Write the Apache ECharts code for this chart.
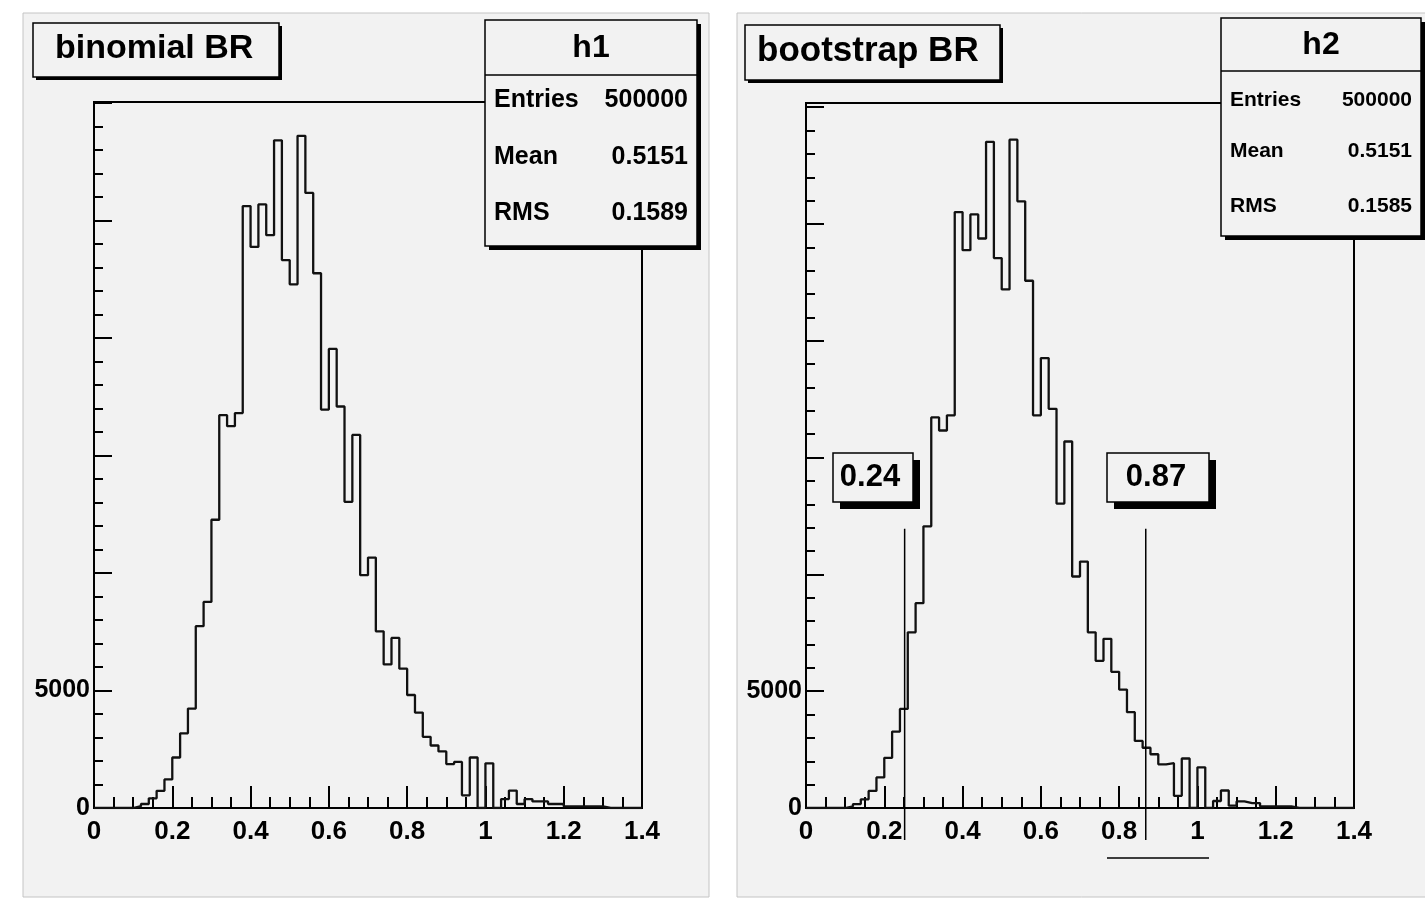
<!DOCTYPE html>
<html>
<head>
<meta charset="utf-8">
<script src="https://cdn.jsdelivr.net/npm/echarts@6/dist/echarts.min.js"></script>
<style>
  html, body { margin: 0; padding: 0; background: #fff; }
  #chart { width: 1425px; height: 903px; }
</style>
</head>
<body>
<div id="chart"></div>
<script>
// histogram contents, 70 bins of width 0.02 from 0 to 1.4
const binWidth = 0.02
const binomialCounts = [
  0, 0, 0, 0, 0, 75, 170, 410, 730, 1215,
  2150, 3180, 4230, 7740, 8770, 12270, 16720, 16250, 16810, 25620,
  23880, 25690, 24380, 28420, 23320, 22290, 28610, 26180, 22760, 16960,
  19540, 17090, 13030, 15880, 9910, 10660, 7520, 6110, 7240, 5930,
  4810, 4060, 3030, 2660, 2410, 1870, 1960, 540, 2150, 0,
  1900, 0, 380, 740, 170, 380, 280, 280, 170, 170,
  70, 70, 70, 70, 70, 0, 0, 0, 0, 0
]
const bootstrapCounts = [
  0, 0, 0, 0, 0, 75, 170, 370, 730, 1310,
  2150, 3270, 4240, 7520, 8770, 12060, 16720, 16160, 16810, 25510,
  23880, 25410, 24380, 28520, 23540, 22200, 28610, 25970, 22570, 16810,
  19260, 17090, 13030, 15690, 9910, 10550, 7520, 6300, 7240, 5830,
  5070, 4100, 2870, 2580, 2300, 1870, 1920, 520, 2120, 0,
  1740, 0, 300, 750, 100, 280, 210, 210, 70, 70,
  70, 70, 0, 0, 0, 0, 0, 0, 0, 0
]
const yLabelValues = [0, 5000]
const statNames = ['Entries', 'Mean', 'RMS']
const statsH1 = ['500000', '0.5151', '0.1589']
const statsH2 = ['500000', '0.5151', '0.1585']
// quantile markers on the bootstrap plot: position, top of line, label
const quantileX = [0.252, 0.868]
const quantileTop = [11950, 11950]
const quantileLabels = ['0.24', '0.87']

const FONT = 'Liberation Sans, Arial, sans-serif'
const BG = '#f2f2f2'

const chart = echarts.init(document.getElementById('chart'))

const stepData = (counts) => {
  const pts = [[0, 0]]
  counts.forEach((c, i) => pts.push([+(i * binWidth).toFixed(2), c]))
  pts.push([+(counts.length * binWidth).toFixed(2), 0])
  return pts
}

const xAxisFor = (gridIndex) => ({
  type: 'value',
  gridIndex,
  position: 'bottom',
  min: 0,
  max: 1.4,
  interval: 0.2,
  axisLine: { show: true, lineStyle: { color: '#000', width: 2 } },
  axisTick: { show: true, inside: true, length: 22, lineStyle: { color: '#000', width: 2 } },
  minorTick: { show: true, splitNumber: 4, length: 11, lineStyle: { color: '#000', width: 2 } },
  axisLabel: {
    color: '#000', fontFamily: FONT, fontSize: 26, fontWeight: 'bold', margin: 11,
    formatter: (v) => String(+v.toFixed(1))
  },
  splitLine: { show: false }
})

// two value axes per grid: one carries the minor ticks, the other major ticks and labels
const yAxesFor = (gridIndex, max) => [
  {
    type: 'value', gridIndex, position: 'left', min: 0, max, interval: 1000,
    axisLine: { show: true, lineStyle: { color: '#000', width: 2 } },
    axisTick: { show: true, inside: true, length: 9, lineStyle: { color: '#000', width: 2 } },
    axisLabel: { show: false },
    splitLine: { show: false }
  },
  {
    type: 'value', gridIndex, position: 'left', offset: 0, min: 0, max, interval: 5000,
    axisLine: { show: false },
    axisTick: { show: true, inside: true, length: 18, lineStyle: { color: '#000', width: 2 } },
    axisLabel: {
      color: '#000', fontFamily: FONT, fontSize: 25, fontWeight: 'bold', margin: 4,
      formatter: (v) => (yLabelValues.includes(v) ? String(v) : '')
    },
    splitLine: { show: false }
  }
]

const histSeries = (idx, counts) => ({
  type: 'line',
  xAxisIndex: idx,
  yAxisIndex: idx * 2 + 1,
  step: 'end',
  data: stepData(counts),
  showSymbol: false,
  symbol: 'none',
  lineStyle: { color: '#111', width: 2.3 },
  clip: true,
  silent: true,
  z: 3
})

const quantileSeries = {
  type: 'custom',
  xAxisIndex: 1,
  yAxisIndex: 3,
  clip: false,
  silent: true,
  z: 4,
  data: quantileX.map((x, i) => [x, quantileTop[i]]),
  renderItem: (params, api) => {
    const top = api.coord([api.value(0), api.value(1)])
    const base = api.coord([api.value(0), 0])
    return {
      type: 'line',
      shape: { x1: top[0], y1: top[1], x2: base[0], y2: base[1] + 32 },
      style: { stroke: '#000', lineWidth: 1.5 }
    }
  }
}

// ROOT style boxes with a black drop shadow
const shadowBox = (x, y, w, h, shadow, fill) => [
  { type: 'rect', shape: { x: x + shadow, y: y + shadow, width: w, height: h }, style: { fill: '#000' }, z: 10 },
  { type: 'rect', shape: { x, y, width: w, height: h }, style: { fill, stroke: '#000', lineWidth: 1.5 }, z: 11 }
]
const text = (x, y, str, size, align, weight) => ({
  type: 'text', x, y, z: 12,
  style: { text: str, fontFamily: FONT, fontSize: size, fontWeight: weight || 'normal', fill: '#000', align, verticalAlign: 'middle' }
})

const statsBox = (x, y, w, h, headerH, name, rowsY, values, size, titleSize) => {
  const els = shadowBox(x, y, w, h, 4, BG)
  els.push({ type: 'line', shape: { x1: x, y1: y + headerH, x2: x + w, y2: y + headerH }, style: { stroke: '#000', lineWidth: 1.5 }, z: 12 })
  els.push(text(x + w / 2, y + headerH / 2 + 1, name, titleSize, 'center', 'bold'))
  statNames.forEach((n, i) => {
    els.push(text(x + 9, rowsY[i], n, size, 'left', 'bold'))
    els.push(text(x + w - 9, rowsY[i], values[i], size, 'right', 'bold'))
  })
  return els
}

const graphics = [
  // pads
  { type: 'rect', shape: { x: 23, y: 13, width: 686, height: 884 }, style: { fill: BG, stroke: '#c4c4c4', lineWidth: 1 }, z: -10 },
  { type: 'rect', shape: { x: 737, y: 13, width: 700, height: 884 }, style: { fill: BG, stroke: '#c4c4c4', lineWidth: 1 }, z: -10 },
  // titles
  ...shadowBox(33, 23, 246, 54, 3, BG),
  text(55, 49, 'binomial BR', 34, 'left', 'bold'),
  ...shadowBox(745, 25, 255, 55, 3, BG),
  text(757, 51, 'bootstrap BR', 35, 'left', 'bold'),
  // stats
  ...statsBox(485, 20, 212, 226, 55, 'h1', [100, 157, 213], statsH1, 25, 32),
  ...statsBox(1221, 18, 200, 218, 53, 'h2', [100, 151, 206], statsH2, 21, 32),
  // quantile labels
  ...shadowBox(833, 453, 80, 49, 7, BG),
  text(870, 477, quantileLabels[0], 31, 'center', 'bold'),
  ...shadowBox(1107, 453, 102, 49, 7, BG),
  text(1156, 477, quantileLabels[1], 31, 'center', 'bold'),
  { type: 'line', shape: { x1: 1107, y1: 858, x2: 1209, y2: 858 }, style: { stroke: '#000', lineWidth: 1.5 }, z: 12 }
]

chart.setOption({
  animation: false,
  backgroundColor: '#fff',
  grid: [
    { left: 94, top: 102, width: 548, height: 706, show: true, borderColor: '#000', borderWidth: 2, backgroundColor: BG },
    { left: 806, top: 103, width: 548, height: 705, show: true, borderColor: '#000', borderWidth: 2, backgroundColor: BG }
  ],
  xAxis: [xAxisFor(0), xAxisFor(1)],
  yAxis: [...yAxesFor(0, 30050), ...yAxesFor(1, 30180)],
  series: [histSeries(0, binomialCounts), histSeries(1, bootstrapCounts), quantileSeries],
  graphic: graphics
})

window.addEventListener('resize', function () {
  chart.resize()
})
</script>
</body>
</html>
